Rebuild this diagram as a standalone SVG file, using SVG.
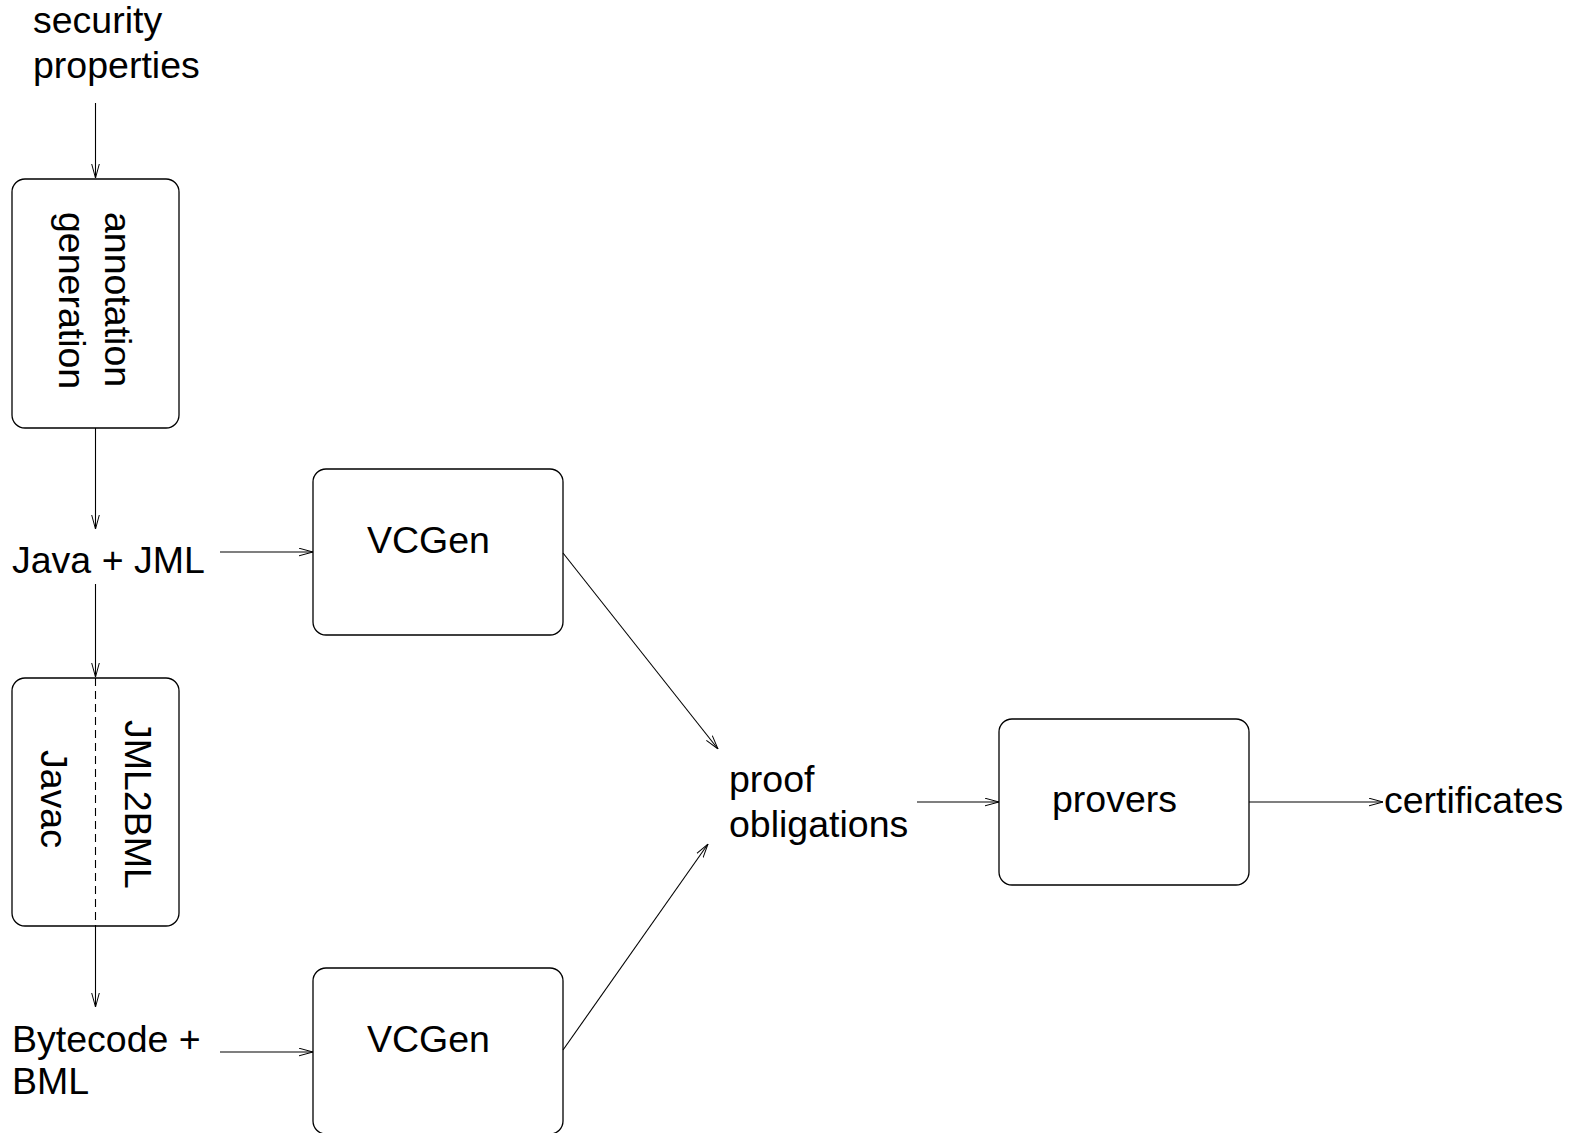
<svg xmlns="http://www.w3.org/2000/svg" width="1575" height="1133" viewBox="0 0 1575 1133">
<defs>
<marker id="arr" viewBox="0 0 14 9" refX="14" refY="4.5" markerWidth="14" markerHeight="9" markerUnits="userSpaceOnUse" orient="auto">
<path d="M0,0.7 L14,4.5 L0,8.3" fill="none" stroke="#000" stroke-width="1"/>
</marker>
<style>
text{font-family:"Liberation Sans",Arial,sans-serif;font-size:37.5px;fill:#000}
.box{fill:#fff;stroke:#000;stroke-width:1.3}
.c{fill:none;stroke:#000;stroke-width:1.1}
.a{marker-end:url(#arr)}
</style>
</defs>
<rect width="1575" height="1133" fill="#fff"/>

<g id="security-properties">
<text x="33" y="33">security</text>
<text x="33" y="78">properties</text>
</g>

<g id="annotation-generation">
<rect class="box" x="12" y="179" width="167" height="249" rx="13"/>
<text transform="translate(105,212) rotate(90)">annotation</text>
<text transform="translate(59,212) rotate(90)">generation</text>
</g>

<g id="java-jml">
<text x="12" y="573">Java + JML</text>
</g>

<g id="jml2bml-javac">
<rect class="box" x="12" y="678" width="167" height="248" rx="13"/>
<text transform="translate(125,720) rotate(90)">JML2BML</text>
<text transform="translate(41,750) rotate(90)">Javac</text>
</g>

<g id="bytecode-bml">
<text x="12" y="1052">Bytecode +</text>
<text x="12" y="1094">BML</text>
</g>

<g id="vcgen1">
<rect class="box" x="313" y="469" width="250" height="166" rx="13"/>
<text x="367" y="553">VCGen</text>
</g>

<g id="vcgen2">
<rect class="box" x="313" y="968" width="250" height="166" rx="13"/>
<text x="367" y="1052">VCGen</text>
</g>

<g id="proof-obligations">
<text x="729" y="792">proof</text>
<text x="729" y="837">obligations</text>
</g>

<g id="provers">
<rect class="box" x="999" y="719" width="250" height="166" rx="13"/>
<text x="1052" y="812">provers</text>
</g>

<g id="certificates">
<text x="1384" y="813">certificates</text>
</g>

<g id="connectors">
<line class="c a" x1="95.5" y1="103" x2="95.5" y2="178"/>
<line class="c a" x1="95.5" y1="428" x2="95.5" y2="529"/>
<line class="c a" x1="95.5" y1="584" x2="95.5" y2="677"/>
<line class="c" x1="95.5" y1="678" x2="95.5" y2="926" stroke-dasharray="8,5"/>
<line class="c a" x1="95.5" y1="926" x2="95.5" y2="1007"/>
<line class="c a" x1="220" y1="552" x2="313" y2="552"/>
<line class="c a" x1="220" y1="1052" x2="313" y2="1052"/>
<line class="c a" x1="563" y1="553" x2="718" y2="749"/>
<line class="c a" x1="563" y1="1050" x2="708" y2="844"/>
<line class="c a" x1="917" y1="802" x2="999" y2="802"/>
<line class="c a" x1="1249" y1="802" x2="1383" y2="802"/>
</g>
</svg>
